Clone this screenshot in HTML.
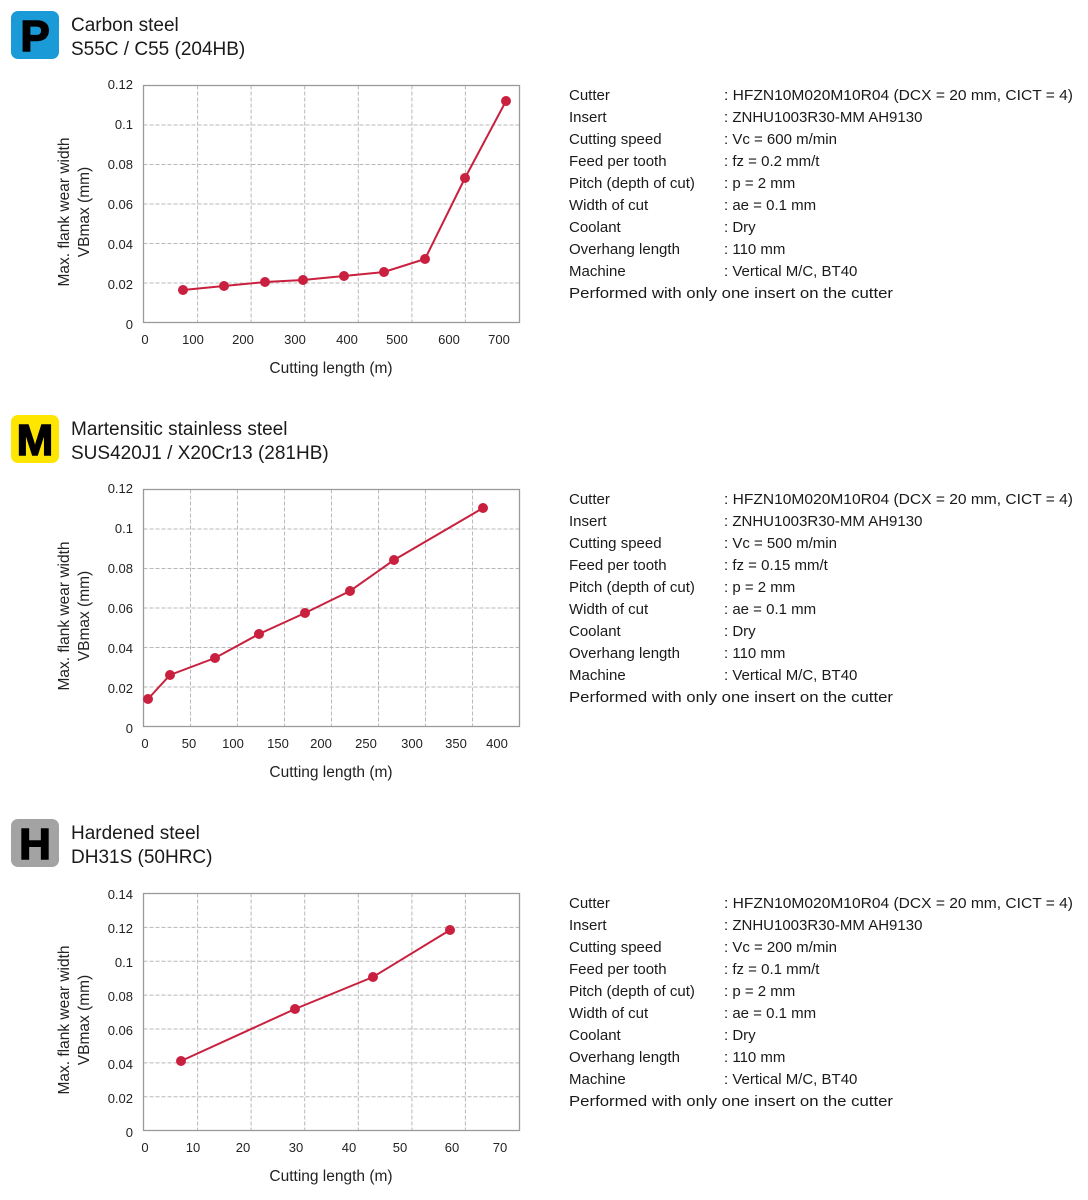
<!DOCTYPE html>
<html><head><meta charset="utf-8"><style>
html,body{margin:0;padding:0;background:#fff;}
svg{display:block;font-family:"Liberation Sans",sans-serif;}
.t{font-size:19px;fill:#1a1a1a;}
.tk{font-size:13px;fill:#222;}
.al{font-size:15.5px;fill:#222;}
.in{font-size:15px;fill:#1a1a1a;}
.g{stroke:#b8b8b8;stroke-width:1;stroke-dasharray:4 2;fill:none;}
.bx{stroke:#9a9a9a;stroke-width:1.3;fill:none;}
.ln{stroke:#c8203e;stroke-width:2;fill:none;}
.dt{fill:#c8203e;}
.ic{font-size:44px;font-weight:900;fill:#000;stroke:#000;stroke-width:1.5;}
</style></head><body>
<svg width="1088" height="1200" viewBox="0 0 1088 1200" xmlns="http://www.w3.org/2000/svg">
<!-- Section P -->
<g>
<rect x="11" y="11" width="48" height="48" rx="7" fill="#1a9ad6"/>
<text class="ic" x="35" y="51" text-anchor="middle">P</text>
<text class="t" x="71" y="31">Carbon steel</text>
<text class="t" x="71" y="55">S55C / C55 (204HB)</text>
<g class="g">
<path d="M197.6 85.5V322.5M251.1 85.5V322.5M304.7 85.5V322.5M358.3 85.5V322.5M411.9 85.5V322.5M465.4 85.5V322.5"/>
<path d="M143.5 125H519.5M143.5 164.5H519.5M143.5 204H519.5M143.5 243.5H519.5M143.5 283H519.5"/>
</g>
<rect class="bx" x="143.5" y="85.5" width="376" height="237"/>
<g class="tk" text-anchor="end">
<text x="133" y="89">0.12</text><text x="133" y="129">0.1</text><text x="133" y="169">0.08</text><text x="133" y="209">0.06</text><text x="133" y="249">0.04</text><text x="133" y="289">0.02</text><text x="133" y="329">0</text>
</g>
<g class="tk" text-anchor="middle">
<text x="145" y="344">0</text><text x="193" y="344">100</text><text x="243" y="344">200</text><text x="295" y="344">300</text><text x="347" y="344">400</text><text x="397" y="344">500</text><text x="449" y="344">600</text><text x="499" y="344">700</text>
</g>
<text class="al" x="331" y="373" text-anchor="middle">Cutting length (m)</text>
<text class="al" transform="translate(69,212) rotate(-90)" text-anchor="middle">Max. flank wear width</text>
<text class="al" transform="translate(89,212) rotate(-90)" text-anchor="middle">VBmax (mm)</text>
<polyline class="ln" points="183,290 224,286 265,282 303,280 344,276 384,272 425,259 465,178 506,101"/>
<g class="dt"><circle cx="183" cy="290" r="5"/><circle cx="224" cy="286" r="5"/><circle cx="265" cy="282" r="5"/><circle cx="303" cy="280" r="5"/><circle cx="344" cy="276" r="5"/><circle cx="384" cy="272" r="5"/><circle cx="425" cy="259" r="5"/><circle cx="465" cy="178" r="5"/><circle cx="506" cy="101" r="5"/></g>
<g class="in">
<text x="569" y="100">Cutter</text><text x="724" y="100" textLength="349" lengthAdjust="spacingAndGlyphs">: HFZN10M020M10R04 (DCX = 20 mm, CICT = 4)</text>
<text x="569" y="122">Insert</text><text x="724" y="122">: ZNHU1003R30-MM AH9130</text>
<text x="569" y="144">Cutting speed</text><text x="724" y="144">: Vc = 600 m/min</text>
<text x="569" y="166">Feed per tooth</text><text x="724" y="166">: fz = 0.2 mm/t</text>
<text x="569" y="188">Pitch (depth of cut)</text><text x="724" y="188">: p = 2 mm</text>
<text x="569" y="210">Width of cut</text><text x="724" y="210">: ae = 0.1 mm</text>
<text x="569" y="232">Coolant</text><text x="724" y="232">: Dry</text>
<text x="569" y="254">Overhang length</text><text x="724" y="254">: 110 mm</text>
<text x="569" y="276">Machine</text><text x="724" y="276">: Vertical M/C, BT40</text>
<text x="569" y="298" textLength="324" lengthAdjust="spacingAndGlyphs">Performed with only one insert on the cutter</text>
</g>
</g>
<!-- Section M -->
<g transform="translate(0,404)">
<rect x="11" y="11" width="48" height="48" rx="7" fill="#ffe600"/>
<text class="ic" x="35" y="51" text-anchor="middle">M</text>
<text class="t" x="71" y="31">Martensitic stainless steel</text>
<text class="t" x="71" y="55">SUS420J1 / X20Cr13 (281HB)</text>
<g class="g">
<path d="M190.5 85.5V322.5M237.5 85.5V322.5M284.5 85.5V322.5M331.5 85.5V322.5M378.5 85.5V322.5M425.5 85.5V322.5M472.5 85.5V322.5"/>
<path d="M143.5 125H519.5M143.5 164.5H519.5M143.5 204H519.5M143.5 243.5H519.5M143.5 283H519.5"/>
</g>
<rect class="bx" x="143.5" y="85.5" width="376" height="237"/>
<g class="tk" text-anchor="end">
<text x="133" y="89">0.12</text><text x="133" y="129">0.1</text><text x="133" y="169">0.08</text><text x="133" y="209">0.06</text><text x="133" y="249">0.04</text><text x="133" y="289">0.02</text><text x="133" y="329">0</text>
</g>
<g class="tk" text-anchor="middle">
<text x="145" y="344">0</text><text x="189" y="344">50</text><text x="233" y="344">100</text><text x="278" y="344">150</text><text x="321" y="344">200</text><text x="366" y="344">250</text><text x="412" y="344">300</text><text x="456" y="344">350</text><text x="497" y="344">400</text>
</g>
<text class="al" x="331" y="373" text-anchor="middle">Cutting length (m)</text>
<text class="al" transform="translate(69,212) rotate(-90)" text-anchor="middle">Max. flank wear width</text>
<text class="al" transform="translate(89,212) rotate(-90)" text-anchor="middle">VBmax (mm)</text>
<polyline class="ln" points="148,295 170,271 215,254 259,230 305,209 350,187 394,156 483,104"/>
<g class="dt"><circle cx="148" cy="295" r="5"/><circle cx="170" cy="271" r="5"/><circle cx="215" cy="254" r="5"/><circle cx="259" cy="230" r="5"/><circle cx="305" cy="209" r="5"/><circle cx="350" cy="187" r="5"/><circle cx="394" cy="156" r="5"/><circle cx="483" cy="104" r="5"/></g>
<g class="in">
<text x="569" y="100">Cutter</text><text x="724" y="100" textLength="349" lengthAdjust="spacingAndGlyphs">: HFZN10M020M10R04 (DCX = 20 mm, CICT = 4)</text>
<text x="569" y="122">Insert</text><text x="724" y="122">: ZNHU1003R30-MM AH9130</text>
<text x="569" y="144">Cutting speed</text><text x="724" y="144">: Vc = 500 m/min</text>
<text x="569" y="166">Feed per tooth</text><text x="724" y="166">: fz = 0.15 mm/t</text>
<text x="569" y="188">Pitch (depth of cut)</text><text x="724" y="188">: p = 2 mm</text>
<text x="569" y="210">Width of cut</text><text x="724" y="210">: ae = 0.1 mm</text>
<text x="569" y="232">Coolant</text><text x="724" y="232">: Dry</text>
<text x="569" y="254">Overhang length</text><text x="724" y="254">: 110 mm</text>
<text x="569" y="276">Machine</text><text x="724" y="276">: Vertical M/C, BT40</text>
<text x="569" y="298" textLength="324" lengthAdjust="spacingAndGlyphs">Performed with only one insert on the cutter</text>
</g>
</g>
<!-- Section H -->
<g transform="translate(0,808)">
<rect x="11" y="11" width="48" height="48" rx="7" fill="#a3a3a3"/>
<text class="ic" x="35" y="51" text-anchor="middle">H</text>
<text class="t" x="71" y="31">Hardened steel</text>
<text class="t" x="71" y="55">DH31S (50HRC)</text>
<g class="g">
<path d="M197.6 85.5V322.5M251.1 85.5V322.5M304.7 85.5V322.5M358.3 85.5V322.5M411.9 85.5V322.5M465.4 85.5V322.5"/>
<path d="M143.5 119.4H519.5M143.5 153.3H519.5M143.5 187.1H519.5M143.5 221H519.5M143.5 254.9H519.5M143.5 288.7H519.5"/>
</g>
<rect class="bx" x="143.5" y="85.5" width="376" height="237"/>
<g class="tk" text-anchor="end">
<text x="133" y="91">0.14</text><text x="133" y="125">0.12</text><text x="133" y="159">0.1</text><text x="133" y="193">0.08</text><text x="133" y="227">0.06</text><text x="133" y="261">0.04</text><text x="133" y="295">0.02</text><text x="133" y="329">0</text>
</g>
<g class="tk" text-anchor="middle">
<text x="145" y="344">0</text><text x="193" y="344">10</text><text x="243" y="344">20</text><text x="296" y="344">30</text><text x="349" y="344">40</text><text x="400" y="344">50</text><text x="452" y="344">60</text><text x="500" y="344">70</text>
</g>
<text class="al" x="331" y="373" text-anchor="middle">Cutting length (m)</text>
<text class="al" transform="translate(69,212) rotate(-90)" text-anchor="middle">Max. flank wear width</text>
<text class="al" transform="translate(89,212) rotate(-90)" text-anchor="middle">VBmax (mm)</text>
<polyline class="ln" points="181,253 295,201 373,169 450,122"/>
<g class="dt"><circle cx="181" cy="253" r="5"/><circle cx="295" cy="201" r="5"/><circle cx="373" cy="169" r="5"/><circle cx="450" cy="122" r="5"/></g>
<g class="in">
<text x="569" y="100">Cutter</text><text x="724" y="100" textLength="349" lengthAdjust="spacingAndGlyphs">: HFZN10M020M10R04 (DCX = 20 mm, CICT = 4)</text>
<text x="569" y="122">Insert</text><text x="724" y="122">: ZNHU1003R30-MM AH9130</text>
<text x="569" y="144">Cutting speed</text><text x="724" y="144">: Vc = 200 m/min</text>
<text x="569" y="166">Feed per tooth</text><text x="724" y="166">: fz = 0.1 mm/t</text>
<text x="569" y="188">Pitch (depth of cut)</text><text x="724" y="188">: p = 2 mm</text>
<text x="569" y="210">Width of cut</text><text x="724" y="210">: ae = 0.1 mm</text>
<text x="569" y="232">Coolant</text><text x="724" y="232">: Dry</text>
<text x="569" y="254">Overhang length</text><text x="724" y="254">: 110 mm</text>
<text x="569" y="276">Machine</text><text x="724" y="276">: Vertical M/C, BT40</text>
<text x="569" y="298" textLength="324" lengthAdjust="spacingAndGlyphs">Performed with only one insert on the cutter</text>
</g>
</g>
</svg>
</body></html>
